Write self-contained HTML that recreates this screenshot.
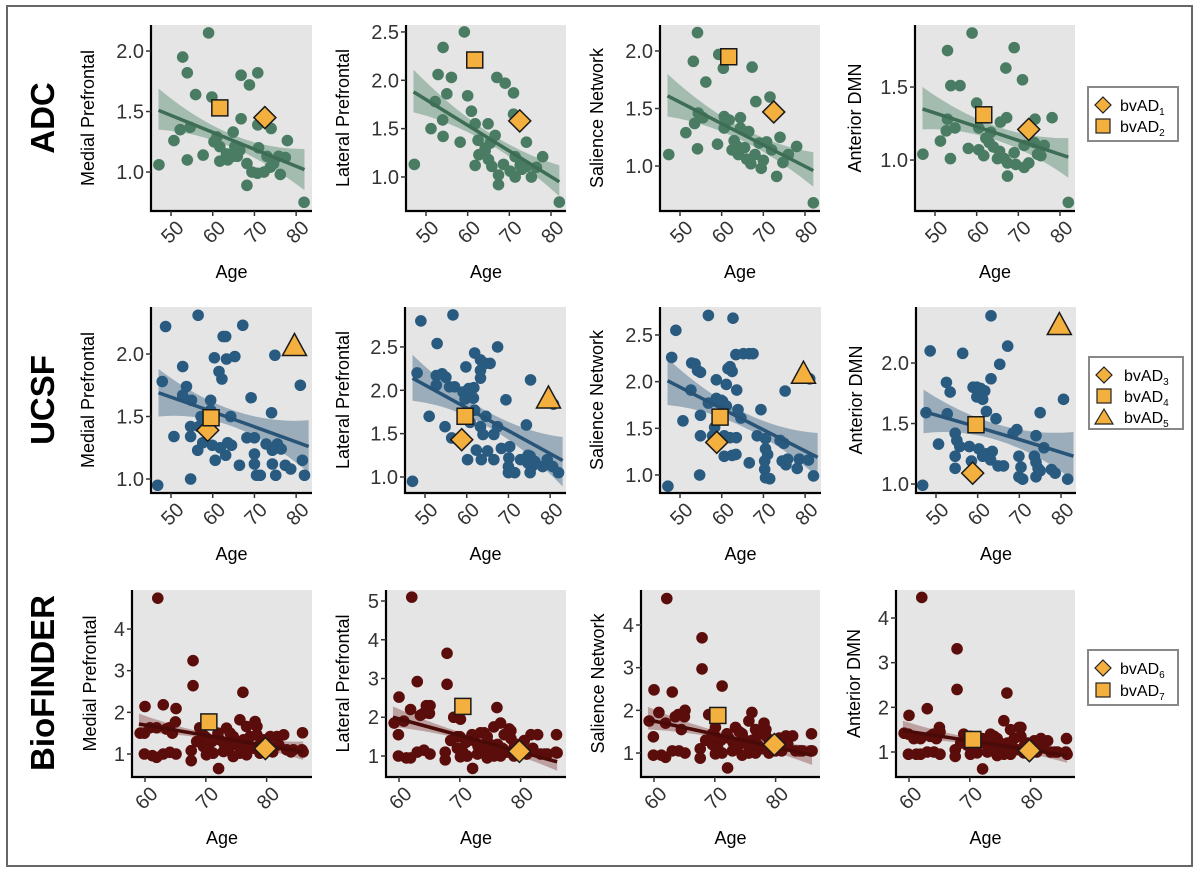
<!DOCTYPE html>
<html><head><meta charset="utf-8"><style>
html,body{margin:0;padding:0;background:#fff}
svg{display:block;font-family:"Liberation Sans",Arial,sans-serif}
</style></head><body>
<svg id="fig" width="1200" height="881" viewBox="0 0 1200 881" xmlns="http://www.w3.org/2000/svg">
<rect x="0" y="0" width="1200" height="881" fill="#fff"/>
<rect x="7" y="6" width="1185" height="860" fill="none" stroke="#666" stroke-width="2"/>
<text transform="translate(54,118) rotate(-90)" text-anchor="middle" font-size="33" font-weight="bold">ADC</text>
<text transform="translate(54,400) rotate(-90)" text-anchor="middle" font-size="33" font-weight="bold">UCSF</text>
<text transform="translate(54,683) rotate(-90)" text-anchor="middle" font-size="33" font-weight="bold">BioFINDER</text>
<g id="panels"></g>
<g>
<rect x="1088" y="87" width="90" height="54" fill="#fff" stroke="#888" stroke-width="2"/>
<polygon points="1103,97 1111,105 1103,113 1095,105" fill="#f4b03e" stroke="#222" stroke-width="1.2"/>
<text x="1120" y="111" font-size="16">bvAD<tspan font-size="10" dy="4">1</tspan></text>
<rect x="1096" y="119" width="14" height="14" fill="#f4b03e" stroke="#222" stroke-width="1.2"/>
<text x="1120" y="132" font-size="16">bvAD<tspan font-size="10" dy="4">2</tspan></text>
</g>
<g>
<rect x="1089" y="357" width="94" height="72" fill="#fff" stroke="#888" stroke-width="2"/>
<polygon points="1104,367 1112,375 1104,383 1096,375" fill="#f4b03e" stroke="#222" stroke-width="1.2"/>
<text x="1124" y="381" font-size="16">bvAD<tspan font-size="10" dy="4">3</tspan></text>
<rect x="1097" y="389" width="14" height="14" fill="#f4b03e" stroke="#222" stroke-width="1.2"/>
<text x="1124" y="402" font-size="16">bvAD<tspan font-size="10" dy="4">4</tspan></text>
<polygon points="1104,409 1113,424 1095,424" fill="#f4b03e" stroke="#222" stroke-width="1.2"/>
<text x="1124" y="423" font-size="16">bvAD<tspan font-size="10" dy="4">5</tspan></text>
</g>
<g>
<rect x="1088" y="650" width="90" height="55" fill="#fff" stroke="#888" stroke-width="2"/>
<polygon points="1103,660 1111,668 1103,676 1095,668" fill="#f4b03e" stroke="#222" stroke-width="1.2"/>
<text x="1120" y="674" font-size="16">bvAD<tspan font-size="10" dy="4">6</tspan></text>
<rect x="1096" y="683" width="14" height="14" fill="#f4b03e" stroke="#222" stroke-width="1.2"/>
<text x="1120" y="696" font-size="16">bvAD<tspan font-size="10" dy="4">7</tspan></text>
</g>
</svg>
<script>
// ---------- DATA ----------
const adcMedAges=[47.1,59.0,52.8,53.9,55.9,59.8,66.8,70.8,68.8,66.8,70.8,74.0,77.9,53.9,57.7,50.7,52.2,54.6,61.0,64.9,61.7,63.3,64.9,66.5,61.7,63.6,68.2,69.4,68.2,71.0,72.3,73.8,75.8,76.2,74.6,81.9,70.7,65.3,60.3,65.9,73.0,77.4];
const adcMedVals=[1.06,2.15,1.95,1.82,1.64,1.62,1.80,1.82,1.72,1.44,1.39,1.36,1.26,1.10,1.14,1.26,1.35,1.37,1.29,1.33,1.21,1.15,1.13,1.18,1.09,1.10,1.07,1.00,0.89,1.20,1.00,1.04,1.13,0.98,1.07,0.75,0.99,1.21,1.25,1.13,1.13,1.12];
const adcLatAges=[47.2,59.2,54.1,52.9,56.1,55.0,60.0,67.0,69.0,71.0,71.0,74.1,78.0,51.2,52.2,54.0,54.1,58.2,60.9,61.8,64.9,62.5,62.7,64.2,65.4,66.6,65.0,61.8,65.8,67.4,67.4,68.6,70.2,71.4,71.4,73.0,74.1,75.3,76.5,82.0,64.2,72.6];
const adcLatVals=[1.13,2.50,2.34,2.06,2.03,1.86,1.84,2.03,1.97,1.87,1.65,1.36,1.21,1.50,1.78,1.59,1.42,1.36,1.68,1.55,1.55,1.38,1.23,1.30,1.35,1.43,1.18,1.12,1.11,1.02,0.92,1.13,1.06,1.00,1.21,1.08,1.11,1.00,1.10,0.74,1.27,1.12];
const adcSalAges=[47.3,54.2,53.2,56.2,59.3,60.4,67.3,51.4,54.4,53.5,55.5,54.2,59.0,60.6,61.8,64.5,60.6,64.5,68.2,62.5,63.5,64.0,65.5,66.0,67.0,68.0,69.0,70.0,70.8,71.6,72.0,74.0,74.7,73.2,76.0,78.0,82.0,66.5,69.5,63.0];
const adcSalVals=[1.10,2.16,1.91,1.73,1.97,1.85,1.86,1.29,1.46,1.37,1.42,1.15,1.19,1.43,1.40,1.42,1.33,1.33,1.56,1.14,1.18,1.10,1.16,1.06,1.02,1.10,1.20,1.05,1.21,1.60,1.14,1.25,1.03,0.91,1.10,1.17,0.68,1.30,0.98,1.22];
const adcDmnAges=[47.1,58.9,53.0,69.0,67.0,71.0,53.8,56.0,60.0,67.2,65.7,74.0,78.1,53.0,52.7,54.8,51.3,53.7,58.0,60.5,60.5,61.7,63.0,64.0,65.5,65.0,66.6,67.4,67.4,69.4,71.4,72.5,71.4,73.8,75.4,74.6,76.2,75.4,82.0,69.0,63.4,62.2];
const adcDmnVals=[1.04,1.87,1.75,1.77,1.63,1.55,1.51,1.51,1.39,1.29,1.26,1.28,1.29,1.28,1.20,1.22,1.13,1.01,1.08,1.22,1.07,1.03,1.12,1.09,1.06,1.01,1.01,0.98,0.89,0.97,0.95,0.98,1.10,1.12,1.09,1.04,1.10,1.03,0.71,1.05,1.19,1.15];

const ucsfMedAges=[46.8,48.7,47.9,52.8,53.7,56.5,67.2,62.5,63.1,60.4,63.3,65.3,61.5,62.2,74.9,81.0,69.2,59.5,52.8,54.9,50.7,54.7,54.7,56.7,57.2,59.5,64.3,74.1,54.7,56.4,57.6,59.9,60.6,61.8,63.1,64.5,63.6,66.4,68.2,70.0,70.0,70.0,70.5,71.4,72.8,74.3,74.3,75.1,75.5,76.4,77.4,78.7,81.5,82.0];
const ucsfMedVals=[0.95,2.22,1.78,1.90,1.74,2.31,2.23,2.14,2.14,1.97,1.96,1.98,1.86,1.80,1.99,1.75,1.65,1.63,1.67,1.63,1.34,1.42,1.34,1.42,1.50,1.55,1.50,1.53,1.00,1.23,1.29,1.27,1.15,1.25,1.19,1.27,1.29,1.11,1.33,1.33,1.20,1.12,1.03,1.03,1.28,1.23,1.12,1.03,1.28,1.24,1.11,1.08,1.15,1.03];
const ucsfLatAges=[47.0,49.0,48.1,52.9,56.7,67.4,61.9,63.3,63.3,63.3,64.5,65.6,59.8,52.7,54.1,55.0,52.7,55.9,57.1,59.1,59.6,60.5,61.7,61.6,69.4,75.3,51.0,54.8,56.4,60.8,61.9,63.3,64.6,63.9,66.5,67.4,62.3,65.0,66.5,60.2,63.5,68.3,70.3,70.1,70.0,70.0,71.5,74.3,75.2,74.7,75.6,75.2,74.7,76.3,78.2,80.8,79.3,80.6,82.0,72.9];
const ucsfLatVals=[0.95,2.80,2.20,2.54,2.87,2.50,2.43,2.35,2.23,2.14,2.31,2.31,2.27,2.17,2.19,2.15,2.06,2.04,2.04,1.98,1.90,2.02,2.03,1.91,1.89,2.12,1.70,1.58,1.45,1.63,1.77,1.58,1.70,1.49,1.49,1.58,1.31,1.30,1.20,1.20,1.20,1.33,1.35,1.22,1.12,1.05,1.05,1.60,1.24,1.16,1.12,1.05,1.25,1.18,1.12,1.84,1.20,1.12,1.05,1.20];
const ucsfSalAges=[47.1,48.0,49.0,56.8,62.7,52.8,54.2,54.9,53.6,58.7,61.1,61.5,62.5,62.0,63.6,63.4,65.2,66.6,67.5,52.6,56.8,58.7,60.2,59.9,61.1,60.2,63.9,64.6,69.4,75.2,50.7,54.9,54.9,58.3,57.8,60.6,62.0,63.5,68.5,70.5,70.5,71.0,60.6,62.5,63.4,54.7,66.6,70.3,70.5,71.5,70.3,74.0,74.9,74.5,75.4,75.8,78.6,78.1,80.8,81.1,82.0];
const ucsfSalVals=[0.88,2.26,2.55,2.71,2.68,2.20,2.12,2.10,2.19,2.02,1.97,2.14,2.11,2.16,1.91,2.29,2.30,2.30,2.30,1.91,1.77,1.82,1.79,1.80,1.74,1.66,1.70,1.61,1.70,1.90,1.58,1.64,1.42,1.51,1.42,1.42,1.40,1.40,1.42,1.39,1.28,1.22,1.20,1.21,1.22,1.00,1.13,1.06,0.97,0.96,1.15,1.37,1.34,1.15,1.11,1.17,1.17,1.07,1.16,2.03,0.99];
const ucsfDmnAges=[46.8,48.6,56.4,63.2,67.2,65.3,63.2,52.5,53.4,58.9,59.8,60.7,61.7,59.8,61.2,62.1,64.4,80.6,75.0,47.6,50.6,52.7,54.6,55.0,55.7,54.6,54.6,58.0,58.5,60.3,61.2,62.1,63.5,63.1,64.9,66.2,68.5,69.4,69.9,70.4,70.8,69.9,74.0,73.6,74.0,74.5,74.0,75.0,75.9,77.7,78.6,81.6];
const ucsfDmnVals=[0.99,2.10,2.08,2.39,2.14,1.99,1.87,1.84,1.76,1.80,1.80,1.79,1.77,1.72,1.70,1.60,1.54,1.70,1.59,1.59,1.33,1.58,1.42,1.36,1.31,1.23,1.13,1.31,1.19,1.29,1.23,1.25,1.27,1.20,1.15,1.15,1.42,1.45,1.23,1.14,1.04,1.06,1.40,1.23,1.18,1.13,1.06,1.11,1.30,1.12,1.09,1.04];

const bioAges=[62.1,67.9,67.9,76.1,60.0,63.0,65.1,65.0,59.9,59.2,60.8,61.9,63.5,64.0,64.5,59.9,61.2,61.9,63.0,64.1,65.1,67.6,67.6,69.0,69.6,70.1,71.2,72.1,75.6,78.1,76.7,73.4,74.5,72.3,74.0,75.6,77.3,78.4,79.5,80.6,81.7,82.8,83.3,84.4,85.8,85.9,75.6,74.5,76.7,77.8,78.9,80.0,71.2,70.1,69.6,72.9,74.0,76.2,80.6,78.4,71.0,72.0,73.0,75.0,77.0,79.0,70.5,73.5,76.5,81.0,82.0,84.0,86.0,68.5,70.0];
const bioMedVals=[4.74,3.24,2.64,2.48,2.14,2.18,2.09,1.77,1.50,1.50,1.63,1.63,1.60,1.63,1.50,1.00,0.96,0.92,1.00,1.04,1.00,1.08,0.84,1.63,1.45,1.73,1.02,0.65,1.82,1.78,1.66,1.62,1.42,1.34,1.18,1.18,1.42,1.46,1.34,1.18,1.42,1.46,1.10,1.10,1.10,1.51,1.02,0.94,0.98,1.14,1.02,1.10,1.02,0.98,1.18,1.06,1.50,1.34,1.42,1.66,1.30,1.50,1.25,1.30,1.20,1.25,1.10,1.15,1.10,1.05,1.22,1.05,1.05,1.30,1.40];
const bioLatVals=[5.10,3.65,2.85,2.25,2.52,2.92,2.30,2.10,1.55,1.85,1.90,2.20,2.05,2.10,2.30,1.00,0.95,0.95,1.10,1.15,1.05,1.10,0.90,2.00,1.50,1.95,1.00,0.68,1.75,1.70,1.85,1.60,1.50,1.40,1.20,1.15,1.55,1.45,1.30,1.15,1.55,1.55,1.05,1.05,1.10,1.55,1.00,0.95,1.00,1.10,1.00,1.05,1.00,0.98,1.20,1.05,1.60,1.30,1.40,1.65,1.35,1.55,1.25,1.30,1.20,1.25,1.10,1.15,1.10,1.05,1.20,1.05,1.08,1.40,1.50];
const bioSalVals=[4.62,3.70,2.97,1.95,2.48,2.43,2.00,1.85,1.38,1.75,1.95,1.70,1.85,1.90,1.55,0.95,0.95,0.90,1.05,1.05,1.00,1.10,0.88,1.90,1.45,1.60,2.57,0.65,1.75,1.70,1.55,1.60,1.45,1.35,1.20,1.15,1.45,1.40,1.30,1.15,1.40,1.40,1.05,1.05,1.05,1.45,1.00,0.95,1.00,1.10,1.00,1.05,1.00,0.98,1.20,1.05,1.50,1.30,1.35,1.55,1.30,1.45,1.25,1.30,1.20,1.25,1.10,1.15,1.10,1.05,1.20,1.05,1.05,1.30,1.40];
const bioDmnVals=[4.46,3.31,2.40,2.32,1.82,1.97,1.45,1.55,1.40,1.42,1.30,1.30,1.35,1.40,1.30,0.95,0.95,0.95,1.00,1.00,0.95,1.05,0.90,1.40,1.30,1.35,1.00,0.62,1.70,1.55,1.50,1.40,1.30,1.20,1.10,1.10,1.30,1.35,1.20,1.10,1.30,1.25,1.00,1.00,1.00,1.30,0.95,0.92,0.95,1.05,0.98,1.00,0.98,0.95,1.15,1.00,1.35,1.20,1.25,1.55,1.20,1.30,1.15,1.20,1.10,1.15,1.05,1.10,1.05,1.00,1.15,1.00,0.95,1.20,1.25];

// fit line & ribbon (age at start, mean, end)
const adcFitAges=[47,62,82], ucsfFitAges=[47,64,83], bioFitAges=[59,73,86];
const adcMedFit=[1.51,1.30,1.02], adcMedLo=[1.35,1.24,0.85], adcMedHi=[1.69,1.35,1.19];
const adcLatFit=[1.88,1.48,0.95], adcLatLo=[1.67,1.42,0.80], adcLatHi=[2.11,1.55,1.12];
const adcSalFit=[1.61,1.33,0.96], adcSalLo=[1.43,1.27,0.82], adcSalHi=[1.80,1.39,1.12];
const adcDmnFit=[1.35,1.21,1.02], adcDmnLo=[1.21,1.16,0.88], adcDmnHi=[1.50,1.26,1.15];
const ucsfMedFit=[1.69,1.49,1.26], ucsfMedLo=[1.50,1.43,1.05], ucsfMedHi=[1.88,1.56,1.47];
const ucsfLatFit=[2.14,1.69,1.19], ucsfLatLo=[1.88,1.61,0.89], ucsfLatHi=[2.41,1.78,1.46];
const ucsfSalFit=[2.01,1.62,1.19], ucsfSalLo=[1.75,1.54,0.98], ucsfSalHi=[2.25,1.70,1.45];
const ucsfDmnFit=[1.60,1.43,1.23], ucsfDmnLo=[1.42,1.37,1.03], ucsfDmnHi=[1.78,1.50,1.43];
const bioMedFit=[1.72,1.37,1.05], bioMedLo=[1.52,1.31,0.86], bioMedHi=[1.97,1.43,1.30];
const bioLatFit=[2.00,1.40,0.85], bioLatLo=[1.75,1.33,0.62], bioLatHi=[2.28,1.48,1.10];
const bioSalFit=[1.78,1.35,0.95], bioSalLo=[1.55,1.28,0.72], bioSalHi=[2.08,1.42,1.18];
const bioDmnFit=[1.48,1.19,0.92], bioDmnLo=[1.30,1.13,0.76], bioDmnHi=[1.70,1.25,1.10];

// patient markers: ages and values per panel
const adcPatAges=[72.5,61.7], adcPatShapes=['diamond','square'];
const adcMedPat=[1.45,1.53], adcLatPat=[1.58,2.21], adcSalPat=[1.47,1.95], adcDmnPat=[1.21,1.31];
const ucsfPatAges=[58.8,59.6,79.6], ucsfPatShapes=['diamond','square','triangle'];
const ucsfMedPat=[1.39,1.49,2.06], ucsfLatPat=[1.43,1.70,1.90], ucsfSalPat=[1.35,1.62,2.08], ucsfDmnPat=[1.09,1.49,2.31];
const bioPatAges=[79.8,70.5], bioPatShapes=['diamond','square'];
const bioMedPat=[1.13,1.77], bioLatPat=[1.12,2.28], bioSalPat=[1.20,1.88], bioDmnPat=[1.03,1.28];

const adcXTicks=[50,60,70,80], bioXTicks=[60,70,80];
const ticks15=[1.0,1.5,2.0], ticks25=[1.0,1.5,2.0,2.5], ticks1=[1.0,1.5];

// ---------- DRAW ----------
const NS='http://www.w3.org/2000/svg';
const root=document.getElementById('panels');
function mk(tag,attrs,parent){const e=document.createElementNS(NS,tag);for(const k in attrs)e.setAttribute(k,attrs[k]);(parent||root).appendChild(e);return e;}
const themes={
 adc:{pt:'#4a7c63',line:'#3d6d55',rib:'#6f9a84'},
 ucsf:{pt:'#295a80',line:'#285478',rib:'#5f7f99'},
 bio:{pt:'#5a0d0b',line:'#4a0a08',rib:'#9a6a68'}
};
const panels=[
 {id:'adc-medial',th:'adc',L:151,T:25,W:161,H:186,xd:[45.2,83.8],yd:[0.678,2.215],yt:ticks15,dec:1,title:'Medial Prefrontal',to:63,ages:adcMedAges,vals:adcMedVals,fa:adcFitAges,fit:adcMedFit,lo:adcMedLo,hi:adcMedHi,pa:adcPatAges,ps:adcPatShapes,pv:adcMedPat,xt:adcXTicks},
 {id:'adc-lateral',th:'adc',L:406,T:25,W:160,H:186,xd:[45.2,83.6],yd:[0.648,2.572],yt:ticks25,dec:1,title:'Lateral Prefrontal',to:63,ages:adcLatAges,vals:adcLatVals,fa:adcFitAges,fit:adcLatFit,lo:adcLatLo,hi:adcLatHi,pa:adcPatAges,ps:adcPatShapes,pv:adcLatPat,xt:adcXTicks},
 {id:'adc-salience',th:'adc',L:660,T:25,W:160,H:186,xd:[45.2,83.6],yd:[0.609,2.226],yt:ticks15,dec:1,title:'Salience Network',to:63,ages:adcSalAges,vals:adcSalVals,fa:adcFitAges,fit:adcSalFit,lo:adcSalLo,hi:adcSalHi,pa:adcPatAges,ps:adcPatShapes,pv:adcSalPat,xt:adcXTicks},
 {id:'adc-dmn',th:'adc',L:915,T:25,W:160,H:186,xd:[45.2,83.6],yd:[0.651,1.925],yt:ticks1,dec:1,title:'Anterior DMN',to:60,ages:adcDmnAges,vals:adcDmnVals,fa:adcFitAges,fit:adcDmnFit,lo:adcDmnLo,hi:adcDmnHi,pa:adcPatAges,ps:adcPatShapes,pv:adcDmnPat,xt:adcXTicks},
 {id:'ucsf-medial',th:'ucsf',L:151,T:307,W:161,H:186,xd:[45.2,83.8],yd:[0.888,2.376],yt:ticks15,dec:1,title:'Medial Prefrontal',to:63,ages:ucsfMedAges,vals:ucsfMedVals,fa:ucsfFitAges,fit:ucsfMedFit,lo:ucsfMedLo,hi:ucsfMedHi,pa:ucsfPatAges,ps:ucsfPatShapes,pv:ucsfMedPat,xt:adcXTicks},
 {id:'ucsf-lateral',th:'ucsf',L:405,T:307,W:161,H:186,xd:[45.2,83.8],yd:[0.815,2.961],yt:ticks25,dec:1,title:'Lateral Prefrontal',to:62,ages:ucsfLatAges,vals:ucsfLatVals,fa:ucsfFitAges,fit:ucsfLatFit,lo:ucsfLatLo,hi:ucsfLatHi,pa:ucsfPatAges,ps:ucsfPatShapes,pv:ucsfLatPat,xt:adcXTicks},
 {id:'ucsf-salience',th:'ucsf',L:660,T:307,W:161,H:186,xd:[45.2,83.8],yd:[0.807,2.80],yt:ticks25,dec:1,title:'Salience Network',to:63,ages:ucsfSalAges,vals:ucsfSalVals,fa:ucsfFitAges,fit:ucsfSalFit,lo:ucsfSalLo,hi:ucsfSalHi,pa:ucsfPatAges,ps:ucsfPatShapes,pv:ucsfSalPat,xt:adcXTicks},
 {id:'ucsf-dmn',th:'ucsf',L:916,T:307,W:160,H:186,xd:[45.2,83.6],yd:[0.926,2.463],yt:ticks15,dec:1,title:'Anterior DMN',to:60,ages:ucsfDmnAges,vals:ucsfDmnVals,fa:ucsfFitAges,fit:ucsfDmnFit,lo:ucsfDmnLo,hi:ucsfDmnHi,pa:ucsfPatAges,ps:ucsfPatShapes,pv:ucsfDmnPat,xt:adcXTicks},
 {id:'bio-medial',th:'bio',L:132,T:590,W:180,H:187,xd:[57.86,87.46],yd:[0.448,4.936],yt:[1,2,3,4],dec:0,title:'Medial Prefrontal',to:42,ages:bioAges,vals:bioMedVals,fa:bioFitAges,fit:bioMedFit,lo:bioMedLo,hi:bioMedHi,pa:bioPatAges,ps:bioPatShapes,pv:bioMedPat,xt:bioXTicks},
 {id:'bio-lateral',th:'bio',L:386,T:590,W:180,H:187,xd:[57.86,87.46],yd:[0.458,5.284],yt:[1,2,3,4,5],dec:0,title:'Lateral Prefrontal',to:43,ages:bioAges,vals:bioLatVals,fa:bioFitAges,fit:bioLatFit,lo:bioLatLo,hi:bioLatHi,pa:bioPatAges,ps:bioPatShapes,pv:bioLatPat,xt:bioXTicks},
 {id:'bio-salience',th:'bio',L:641,T:590,W:179,H:187,xd:[57.86,87.3],yd:[0.438,4.82],yt:[1,2,3,4],dec:0,title:'Salience Network',to:43,ages:bioAges,vals:bioSalVals,fa:bioFitAges,fit:bioSalFit,lo:bioSalLo,hi:bioSalHi,pa:bioPatAges,ps:bioPatShapes,pv:bioSalPat,xt:bioXTicks},
 {id:'bio-dmn',th:'bio',L:896,T:590,W:179,H:187,xd:[57.86,87.3],yd:[0.44,4.627],yt:[1,2,3,4],dec:0,title:'Anterior DMN',to:42,ages:bioAges,vals:bioDmnVals,fa:bioFitAges,fit:bioDmnFit,lo:bioDmnLo,hi:bioDmnHi,pa:bioPatAges,ps:bioPatShapes,pv:bioDmnPat,xt:bioXTicks}
];
function drawMarker(g,shape,x,y){
 let e;
 if(shape==='diamond'){e=mk('polygon',{points:`${x},${y-11} ${x+11},${y} ${x},${y+11} ${x-11},${y}`,fill:'#f4b03e',stroke:'#1a1a1a','stroke-width':1.5},g);}
 else if(shape==='square'){e=mk('rect',{x:x-8,y:y-8,width:16,height:16,fill:'#f4b03e',stroke:'#1a1a1a','stroke-width':1.5},g);}
 else {e=mk('polygon',{points:`${x},${y-13} ${x+12},${y+9} ${x-12},${y+9}`,fill:'#f4b03e',stroke:'#1a1a1a','stroke-width':1.5},g);}
 
 
}
panels.forEach(p=>{
 const th=themes[p.th];
 const sx=a=>p.L+(a-p.xd[0])/(p.xd[1]-p.xd[0])*p.W;
 const sy=v=>p.T+p.H-(v-p.yd[0])/(p.yd[1]-p.yd[0])*p.H;
 const g=mk('g',{});
 
 
 const clipId='clip-'+p.id;
 const cp=mk('clipPath',{id:clipId},g);mk('rect',{x:p.L,y:p.T,width:p.W,height:p.H},cp);
 const bg=mk('rect',{x:p.L,y:p.T,width:p.W,height:p.H,fill:'#e5e5e5'},g);
 
 
 const inner=mk('g',{'clip-path':`url(#${clipId})`},g);
 // ribbon (quadratic through 3 points)
 function q(arr){const x0=sx(p.fa[0]),x1=sx(p.fa[1]),x2=sx(p.fa[2]);const y0=sy(arr[0]),y1=sy(arr[1]),y2=sy(arr[2]);
   const t=(x1-x0)/(x2-x0);const cx=(x1-(1-t)*(1-t)*x0-t*t*x2)/(2*t*(1-t));const cy=(y1-(1-t)*(1-t)*y0-t*t*y2)/(2*t*(1-t));return {x0,y0,cx,cy,x2,y2};}
 const h=q(p.hi),l=q(p.lo);
 const rib=mk('path',{d:`M${h.x0},${h.y0} Q${h.cx},${h.cy} ${h.x2},${h.y2} L${l.x2},${l.y2} Q${l.cx},${l.cy} ${l.x0},${l.y0} Z`,fill:th.rib,'fill-opacity':0.55},inner);
 
 
 const n=Math.min(p.ages.length,p.vals.length);
 for(let i=0;i<n;i++){
  const c=mk('circle',{cx:sx(p.ages[i]),cy:sy(p.vals[i]),r:5.8,fill:th.pt},inner);
  
  
 }
 const f=q(p.fit);
 const ln=mk('path',{d:`M${f.x0},${f.y0} Q${f.cx},${f.cy} ${f.x2},${f.y2}`,fill:'none',stroke:th.line,'stroke-width':3.5},inner);
 
 
 for(let i=0;i<p.pa.length;i++) drawMarker(g,p.ps[i],sx(p.pa[i]),sy(p.pv[i]));
 // axes
 const ax=mk('path',{d:`M${p.L},${p.T} L${p.L},${p.T+p.H} L${p.L+p.W},${p.T+p.H}`,fill:'none',stroke:'#000','stroke-width':2.2},g);
 
 
 p.yt.forEach(v=>{const y=sy(v);
  mk('line',{x1:p.L-5,x2:p.L,y1:y,y2:y,stroke:'#333','stroke-width':1.5},g);
  const t=mk('text',{x:p.L-7,y:y+7,'text-anchor':'end','font-size':20,fill:'#333'},g);t.textContent=v.toFixed(p.dec);
  
  
 });
 p.xt.forEach(a=>{const x=sx(a);const yb=p.T+p.H;
  mk('line',{x1:x,x2:x,y1:yb,y2:yb+5,stroke:'#333','stroke-width':1.5},g);
  const t=mk('text',{transform:`translate(${x+9},${yb+13}) rotate(-45)`,'text-anchor':'end','font-size':20,fill:'#333',dy:'0.35em'},g);t.textContent=a;
  
  
 });
 const yt=mk('text',{transform:`translate(${p.L-p.to+6},${p.T+p.H/2}) rotate(-90)`,'text-anchor':'middle','font-size':18,fill:'#000'},g);yt.textContent=p.title;
 
 
 const xt=mk('text',{x:p.L+p.W/2,y:p.T+p.H+67,'text-anchor':'middle','font-size':18,fill:'#000'},g);xt.textContent='Age';
 
 
});
</script>
</body></html>
